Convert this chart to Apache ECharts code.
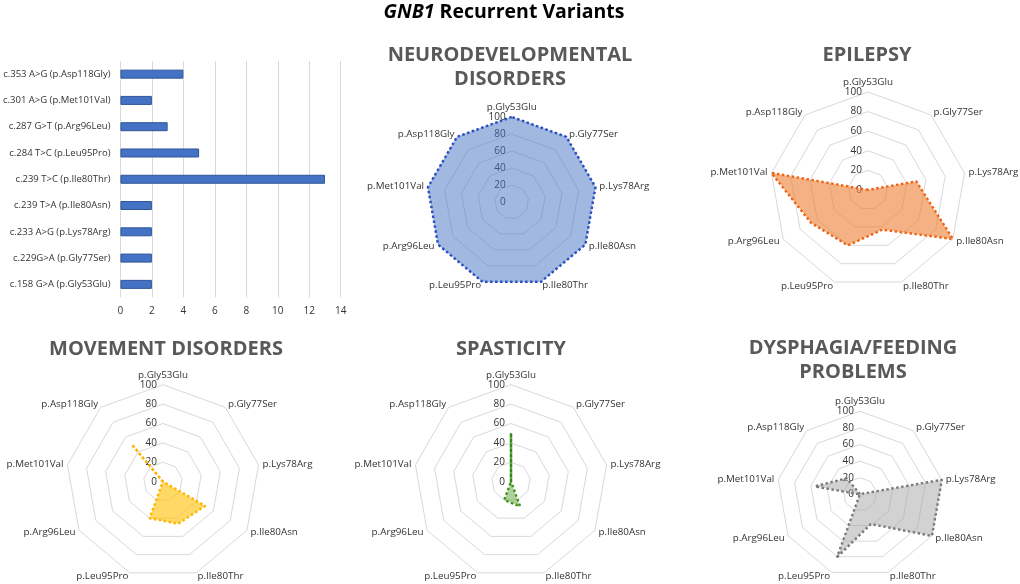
<!DOCTYPE html>
<html>
<head>
<meta charset="utf-8">
<script src="https://cdn.jsdelivr.net/npm/echarts@6/dist/echarts.min.js"></script>
<style>
html,body{margin:0;padding:0;background:#fff;}
#chart{width:1020px;height:584px;}
</style>
</head>
<body>
<div id="chart"></div>
<script>
// ---- data ----
const variants = ['p.Gly53Glu','p.Gly77Ser','p.Lys78Arg','p.Ile80Asn','p.Ile80Thr','p.Leu95Pro','p.Arg96Leu','p.Met101Val','p.Asp118Gly'];
const barCategories = ['c.158 G>A (p.Gly53Glu)','c.229G>A (p.Gly77Ser)','c.233 A>G (p.Lys78Arg)','c.239 T>A (p.Ile80Asn)','c.239 T>C (p.Ile80Thr)','c.284 T>C (p.Leu95Pro)','c.287 G>T (p.Arg96Leu)','c.301 A>G (p.Met101Val)','c.353 A>G (p.Asp118Gly)'];
const barCounts = [2,2,2,2,13,5,3,2,4];
const neuro      = [100,100,100,100,100,100,100,100,100];
const epilepsy   = [0,0,50,100,43,60,67,100,0];
const movement   = [0,0,0,50,46,40,0,0,50];
const spasticity = [50,0,0,0,27,20,0,0,0];
const dysphagia  = [0,0,100,100,38,80,0,55,25];
const panelTitles = ['NEURODEVELOPMENTAL\nDISORDERS','EPILEPSY','MOVEMENT DISORDERS','SPASTICITY','DYSPHAGIA/FEEDING\nPROBLEMS'];
const radarMax = 100;
const radarSplits = 5;

// clockwise order starting at top (ECharts lays indicators counter-clockwise)
const order = [0,8,7,6,5,4,3,2,1];
const reorder = arr => order.map(k => arr[k]);

const FONT = 'Open Sans';
const panels = [
  {title: panelTitles[0], data: neuro, center:[511.7,202], r:85, line:'#1f45c4', fill:'#4472C4', op:0.5, tx:510, ty:43},
  {title: panelTitles[1], data: epilepsy, center:[868,190], r:98, line:'#f05a0a', fill:'#ED7D31', op:0.6, tx:867, ty:43},
  {title: panelTitles[2], data: movement, center:[163,481.7], r:97, line:'#ffb000', fill:'#FFC000', op:0.6, tx:166, ty:337},
  {title: panelTitles[3], data: spasticity, center:[511,481.7], r:97, line:'#2e8c10', fill:'#70AD47', op:0.55, tx:511, ty:337},
  {title: panelTitles[4], data: dysphagia, center:[860,494.3], r:83, line:'#707070', fill:'#A5A5A5', op:0.5, tx:853, ty:336}
];

function makeRadar(p) {
  return {
    center: p.center, radius: p.r, startAngle: 90, shape: 'polygon', splitNumber: radarSplits,
    indicator: order.map((k, j) => {
      const o = {name: variants[k], min: 0, max: radarMax};
      if (j !== 0) o.axisLabel = {show: false};
      return o;
    }),
    axisName: {color: '#333333', fontSize: 9.8, fontFamily: FONT},
    nameGap: 4,
    splitLine: {lineStyle: {color: '#d9d9d9', width: 1}},
    splitArea: {show: false},
    axisLine: {show: false},
    axisTick: {show: false},
    axisLabel: {show: true, color: '#333333', fontSize: 10, fontFamily: FONT, margin: 6}
  };
}

const titles = [{
  text: '{i|GNB1} {b|Recurrent Variants}',
  left: 504, top: 2, textAlign: 'center', padding: 0,
  textStyle: {rich: {
    i: {fontFamily: FONT, fontSize: 19.5, fontWeight: 'bold', fontStyle: 'italic', color: '#000'},
    b: {fontFamily: FONT, fontSize: 19.5, fontWeight: 'bold', color: '#000'}
  }}
}].concat(panels.map(p => ({
  text: p.title, left: p.tx, top: p.ty, textAlign: 'center', padding: 0,
  textStyle: {fontFamily: FONT, fontSize: 20, fontWeight: 'bold', color: '#595959', lineHeight: 24}
})));

const option = {
  animation: false,
  backgroundColor: '#fff',
  title: titles,
  grid: {left: 120, top: 61, width: 220.7, height: 236.5, containLabel: false},
  xAxis: {
    type: 'value', min: 0, max: 14, interval: 2,
    axisLine: {show: false}, axisTick: {show: false},
    splitLine: {lineStyle: {color: '#d9d9d9', width: 1}},
    axisLabel: {color: '#333333', fontSize: 10, fontFamily: FONT, margin: 9}
  },
  yAxis: {
    type: 'category', data: barCategories,
    axisLine: {show: false}, axisTick: {show: false},
    axisLabel: {color: '#333333', fontSize: 9.5, fontFamily: FONT, margin: 10}
  },
  radar: panels.map(makeRadar),
  series: [{
    type: 'bar', data: barCounts, barWidth: 9,
    itemStyle: {color: '#4472C4', borderColor: '#2F5597', borderWidth: 1}
  }].concat(panels.map((p, i) => ({
    type: 'radar', radarIndex: i, symbol: 'none',
    lineStyle: {color: p.line, width: 2.5, type: 'dotted'},
    areaStyle: {color: p.fill, opacity: p.op},
    data: [{value: reorder(p.data), name: p.title}]
  })))
};

const chart = echarts.init(document.getElementById('chart'), null, {renderer: 'canvas'});
chart.setOption(option);
</script>
</body>
</html>
